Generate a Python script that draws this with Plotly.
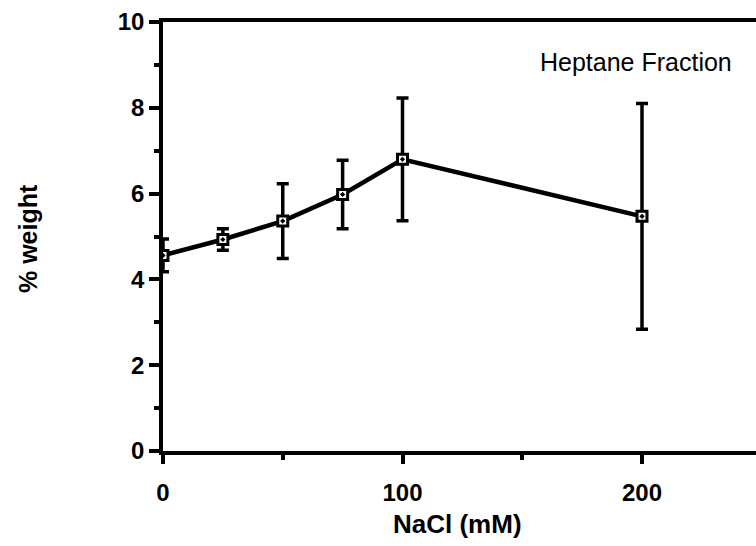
import plotly.graph_objects as go

nacl_mm = [0, 25, 50, 75, 100, 200]
pct_weight = [4.56, 4.93, 5.36, 5.98, 6.80, 5.47]
pct_error = [0.38, 0.25, 0.87, 0.80, 1.43, 2.63]

x_ticks = [0, 100, 200]
y_ticks = [0, 2, 4, 6, 8, 10]

W, H = 756, 546
L, R, T, B = 163, 0, 22, 95

FONT = "Liberation Sans"

fig = go.Figure()
fig.add_trace(go.Scatter(
    x=nacl_mm, y=pct_weight,
    mode="lines+markers",
    line=dict(color="black", width=4.5),
    marker=dict(symbol="square-dot", size=10, color="white",
                line=dict(color="black", width=3)),
    error_y=dict(type="data", array=pct_error, visible=True,
                 color="black", thickness=3.5, width=6),
    showlegend=False,
))

fig.update_layout(
    width=W, height=H,
    margin=dict(l=L, r=R, t=T, b=B, pad=0),
    paper_bgcolor="white", plot_bgcolor="white",
    font=dict(family=FONT, color="black"),
)

fig.update_xaxes(
    range=[0, 247.6], tickvals=x_ticks, ticktext=[str(v) for v in x_ticks],
    showgrid=False, zeroline=False,
    showline=True, linecolor="black", linewidth=3.5, mirror=True,
    ticks="outside", ticklen=9, tickwidth=3.5, tickcolor="black",
    ticklabelstandoff=8,
    tickfont=dict(family=FONT, size=24, weight="bold", color="black"),
    minor=dict(dtick=50, tick0=0, ticks="outside", ticklen=5, tickwidth=3.5,
               tickcolor="black", showgrid=False),
)
fig.update_yaxes(
    range=[0, 10], tickvals=y_ticks, ticktext=[str(v) for v in y_ticks],
    showgrid=False, zeroline=False,
    showline=True, linecolor="black", linewidth=3.5, mirror=False,
    ticks="outside", ticklen=10, tickwidth=3.5, tickcolor="black",
    ticklabelstandoff=0,
    tickfont=dict(family=FONT, size=24, weight="bold", color="black"),
    minor=dict(dtick=1, tick0=0, ticks="outside", ticklen=5, tickwidth=3.5,
               tickcolor="black", showgrid=False),
)

pw = W - L - R
ph = H - T - B

fig.add_annotation(
    text="NaCl (mM)", xref="paper", yref="paper",
    x=(457 - L) / pw, y=-(524 - (T + ph)) / ph,
    xanchor="center", yanchor="middle", showarrow=False,
    font=dict(family=FONT, size=26, weight="bold", color="black"),
)
fig.add_annotation(
    text="% weight", xref="paper", yref="paper",
    x=(28 - L) / pw, y=1 - (239 - T) / ph,
    xanchor="center", yanchor="middle", textangle=-90, showarrow=False,
    font=dict(family=FONT, size=25, weight="bold", color="black"),
)
fig.add_annotation(
    text="Heptane Fraction", xref="paper", yref="paper",
    x=(636 - L) / pw, y=1 - (62 - T) / ph,
    xanchor="center", yanchor="middle", showarrow=False,
    font=dict(family=FONT, size=25, color="black"),
)

fig.write_html("out.html")
